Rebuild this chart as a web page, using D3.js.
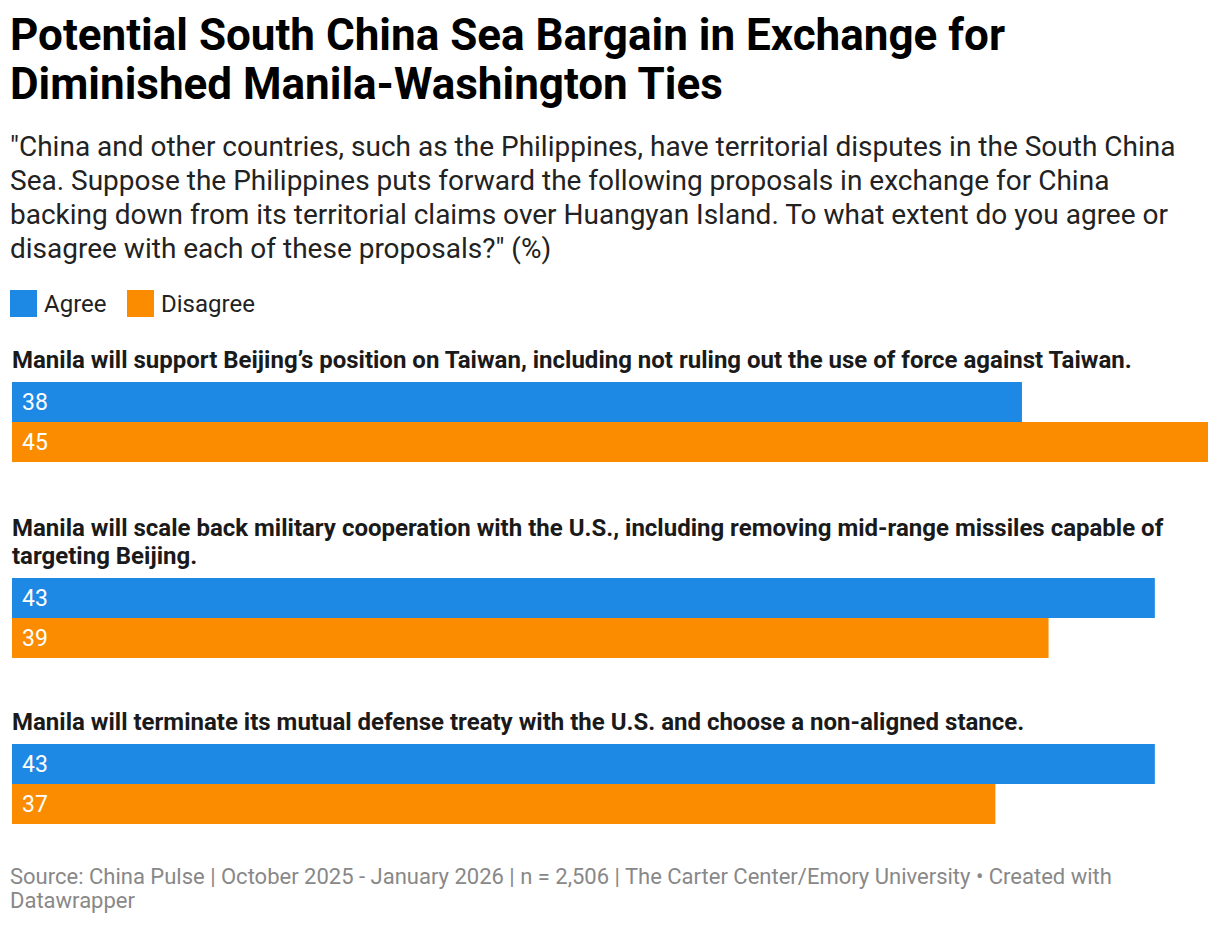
<!DOCTYPE html>
<html>
<head>
<meta charset="utf-8">
<script src="https://cdn.jsdelivr.net/npm/d3@7"></script>
<style>
  html, body { margin: 0; padding: 0; background: #fff; }
  body { width: 1220px; height: 928px; overflow: hidden; font-family: Roboto, "Noto Sans", sans-serif; }
</style>
</head>
<body>
<svg id="chart" width="1220" height="928"></svg>
<script>
const titleLines = ["Potential South China Sea Bargain in Exchange for", "Diminished Manila-Washington Ties"];
const subtitleLines = [
  "\"China and other countries, such as the Philippines, have territorial disputes in the South China",
  "Sea. Suppose the Philippines puts forward the following proposals in exchange for China",
  "backing down from its territorial claims over Huangyan Island. To what extent do you agree or",
  "disagree with each of these proposals?\" (%)"
];
const series = ["Agree", "Disagree"];
const colors = ["#1e88e5", "#fb8c00"];
const categories = [
  ["Manila will support Beijing\u2019s position on Taiwan, including not ruling out the use of force against Taiwan."],
  ["Manila will scale back military cooperation with the U.S., including removing mid-range missiles capable of", "targeting Beijing."],
  ["Manila will terminate its mutual defense treaty with the U.S. and choose a non-aligned stance."]
];
const agree = [38, 43, 43];
const disagree = [45, 39, 37];
const footerLines = [
  "Source: China Pulse | October 2025 - January 2026 | n = 2,506 | The Carter Center/Emory University \u2022 Created with",
  "Datawrapper"
];

const svg = d3.select("#chart");

// Title
svg.append("g").selectAll("text").data(titleLines).join("text")
  .attr("x", 10).attr("y", (d, i) => 50 + i * 49)
  .attr("font-size", 44).attr("font-weight", 700).attr("fill", "#000")
  .text(d => d);

// Subtitle
svg.append("g").selectAll("text").data(subtitleLines).join("text")
  .attr("x", 10).attr("y", (d, i) => 156 + i * 34)
  .attr("font-size", 28).attr("fill", "#222")
  .text(d => d);

// Legend
const legendX = [10, 127];
const lg = svg.append("g").selectAll("g").data(series).join("g")
  .attr("transform", (d, i) => `translate(${legendX[i]},290)`);
lg.append("rect").attr("width", 27).attr("height", 27).attr("fill", (d, i) => colors[i]);
lg.append("text").attr("x", 34).attr("y", 22).attr("font-size", 24).attr("fill", "#222").text(d => d);

// Scale
const x = d3.scaleLinear().domain([0, 45]).range([12, 1208]);
const groupBarTop = [382, 578, 744];
const y = d3.scaleBand().domain(series).range([0, 80]).padding(0);

const groups = svg.append("g").selectAll("g").data(categories).join("g")
  .attr("transform", (d, i) => `translate(0,${groupBarTop[i]})`);

groups.each(function(labelLines, gi) {
  const g = d3.select(this);
  const n = labelLines.length;
  g.selectAll("text.lab").data(labelLines).join("text").attr("class", "lab")
    .attr("x", 12).attr("y", (d, i) => -14 - (n - 1 - i) * 28)
    .attr("font-size", 24).attr("font-weight", 700).attr("fill", "#1a1a1a")
    .text(d => d);
  const vals = [agree[gi], disagree[gi]];
  g.selectAll("rect").data(series).join("rect")
    .attr("x", x(0)).attr("y", d => y(d))
    .attr("width", (d, i) => x(vals[i]) - x(0))
    .attr("height", y.bandwidth())
    .attr("fill", (d, i) => colors[i]);
  g.selectAll("text.val").data(series).join("text").attr("class", "val")
    .attr("x", x(0) + 10).attr("y", d => y(d) + y.bandwidth() / 2 + 8)
    .attr("font-size", 23).attr("fill", "#fff")
    .text((d, i) => vals[i]);
});

// Footer
svg.append("g").selectAll("text").data(footerLines).join("text")
  .attr("x", 10).attr("y", (d, i) => 884 + i * 24)
  .attr("font-size", 22).attr("fill", "#888")
  .text(d => d);
</script>
</body>
</html>
